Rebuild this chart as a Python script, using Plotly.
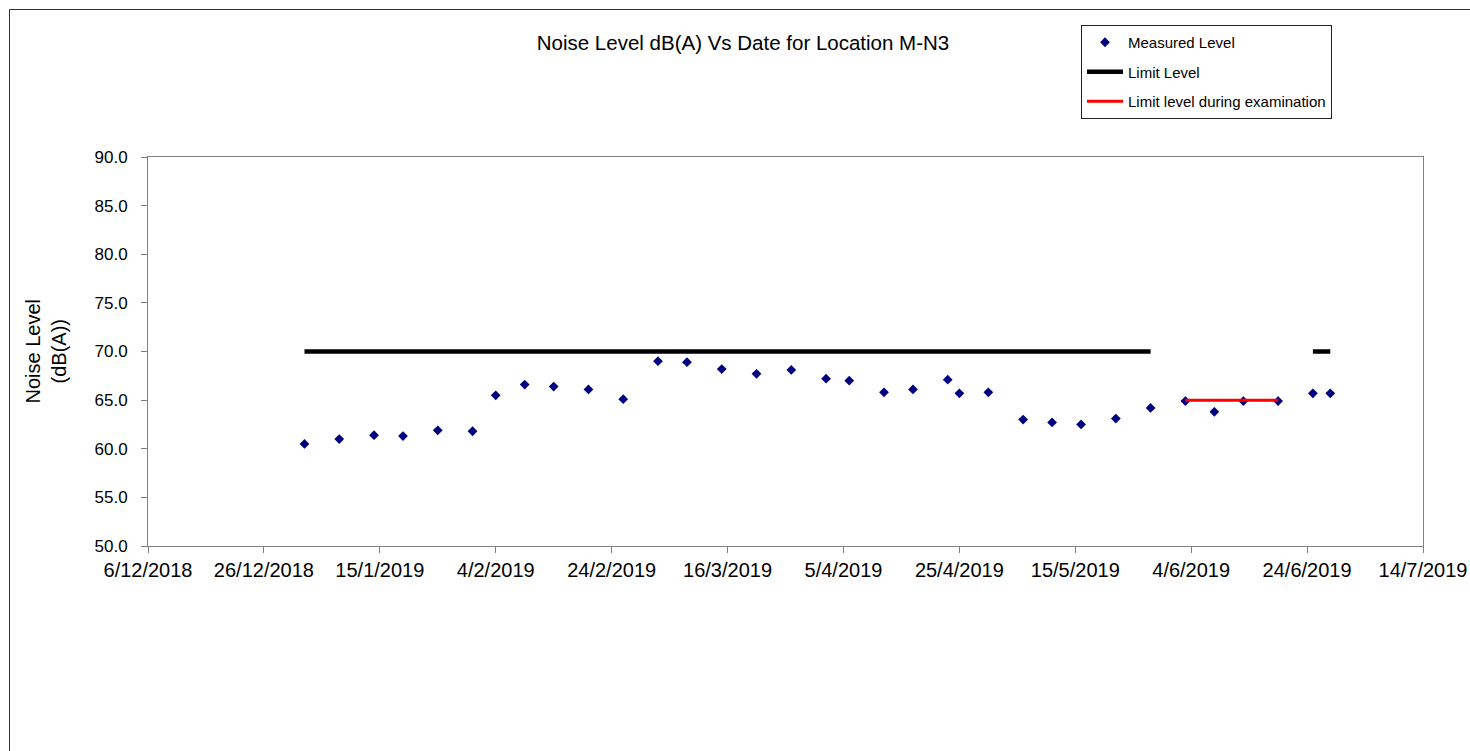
import plotly.graph_objects as go

# Survey dates and measured noise levels, dB(A)
dates = [
    "2019-01-02", "2019-01-08", "2019-01-14", "2019-01-19", "2019-01-25", "2019-01-31",
    "2019-02-04", "2019-02-09", "2019-02-14", "2019-02-20", "2019-02-26", "2019-03-04",
    "2019-03-09", "2019-03-15", "2019-03-21", "2019-03-27", "2019-04-02", "2019-04-06",
    "2019-04-12", "2019-04-17", "2019-04-23", "2019-04-25", "2019-04-30", "2019-05-06",
    "2019-05-11", "2019-05-16", "2019-05-22", "2019-05-28", "2019-06-03", "2019-06-08",
    "2019-06-13", "2019-06-19", "2019-06-25", "2019-06-28",
]
measured = [
    60.5, 61.0, 61.4, 61.3, 61.9, 61.8,
    65.5, 66.6, 66.4, 66.1, 65.1, 69.0,
    68.9, 68.2, 67.7, 68.1, 67.2, 67.0,
    65.8, 66.1, 67.1, 65.7, 65.8, 63.0,
    62.7, 62.5, 63.1, 64.2, 64.9, 63.8,
    64.9, 64.9, 65.7, 65.7,
]
# Normal limit (blank while the examination limit applies)
limit_level = [
    70, 70, 70, 70, 70, 70,
    70, 70, 70, 70, 70, 70,
    70, 70, 70, 70, 70, 70,
    70, 70, 70, 70, 70, 70,
    70, 70, 70, 70, None, None,
    None, None, 70, 70,
]
# Limit during examination period
exam_limit = [
    None, None, None, None, None, None,
    None, None, None, None, None, None,
    None, None, None, None, None, None,
    None, None, None, None, None, None,
    None, None, None, None, 65, 65,
    65, 65, None, None,
]

y_ticks = [50, 55, 60, 65, 70, 75, 80, 85, 90]

FONT = "Arial, 'Liberation Sans', sans-serif"
AXIS_GREY = "#808080"

fig = go.Figure()

fig.add_trace(go.Scatter(
    x=dates, y=measured, mode="markers", name="Measured Level",
    marker=dict(symbol="diamond", size=7.5, color="#000080"),
    legendgroup="a",
))
fig.add_trace(go.Scatter(
    x=dates, y=limit_level, mode="lines", name="Limit Level",
    line=dict(color="black", width=4.5), connectgaps=False,
    legendgroup="b",
))
fig.add_trace(go.Scatter(
    x=dates, y=exam_limit, mode="lines", name="Limit level during examination",
    line=dict(color="#ff0000", width=3), connectgaps=False,
    legendgroup="c",
))

W, H = 1470, 751
L, R, T, B = 148, 47, 157, 205
pw, ph = W - L - R, H - T - B


def px_x(px):
    return (px - L) / pw


def px_y(py):
    return 1 + (T - py) / ph


fig.update_layout(
    width=W, height=H,
    margin=dict(l=L, r=R, t=T, b=B, pad=0, autoexpand=False),
    paper_bgcolor="white", plot_bgcolor="white",
    font=dict(family=FONT, color="black"),
    title=dict(
        text="Noise Level dB(A) Vs Date for Location M-N3",
        font=dict(size=20.5, family=FONT, color="black"),
        x=px_x(743), xanchor="center", xref="paper",
        y=1 - 43 / H, yanchor="middle", yref="container",
    ),
    showlegend=True,
    legend=dict(
        x=px_x(1081), y=px_y(25), xanchor="left", yanchor="top",
        bordercolor="#222222", borderwidth=1, bgcolor="white",
        font=dict(size=15, family=FONT, color="black"),
        traceorder="grouped", tracegroupgap=7, itemwidth=36,
    ),
    xaxis=dict(
        type="date", automargin=False,
        range=["2018-12-06", "2019-07-14"],
        tick0="2018-12-06", dtick=20 * 86400000,
        tickformat="%-d/%-m/%Y",
        ticks="outside", ticklen=6, tickcolor=AXIS_GREY,
        showline=True, linecolor=AXIS_GREY, linewidth=1, mirror=True,
        showgrid=False, zeroline=False,
        tickfont=dict(size=20, family=FONT, color="black"),
    ),
    yaxis=dict(
        automargin=False,
        range=[50, 90], tickvals=y_ticks, tickformat=".1f",
        ticks="outside", ticklen=6, tickcolor=AXIS_GREY,
        ticklabelstandoff=10,
        showline=True, linecolor=AXIS_GREY, linewidth=1, mirror=True,
        showgrid=False, zeroline=False,
        tickfont=dict(size=17, family=FONT, color="black"),
    ),
    annotations=[dict(
        text="Noise Level<br>(dB(A))", textangle=-90,
        xref="paper", yref="paper", x=px_x(45), y=0.5,
        xanchor="center", yanchor="middle", showarrow=False,
        font=dict(size=20, family=FONT, color="black"),
    )],
    shapes=[dict(
        type="rect", xref="paper", yref="paper",
        x0=px_x(9.5), y0=px_y(H + 50), x1=px_x(W + 50), y1=px_y(9.5),
        line=dict(color="#333333", width=1), fillcolor="rgba(0,0,0,0)",
        layer="below",
    )],
)

fig.write_html("out.html")
